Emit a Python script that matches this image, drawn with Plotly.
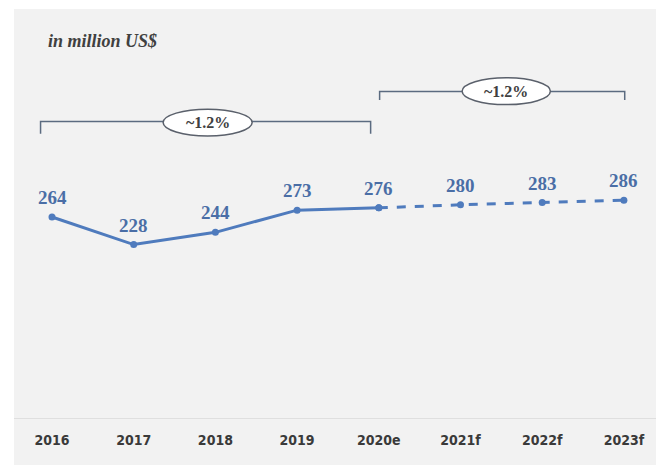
import plotly.graph_objects as go

# Market size, in million US$
years = ["2016", "2017", "2018", "2019", "2020e", "2021f", "2022f", "2023f"]
values = [264, 228, 244, 273, 276, 280, 283, 286]
cagr_labels = ["~1.2%", "~1.2%"]

LINE = "#4f7bbd"
LABEL = "#4a6ea6"
BRACKET = "#5b6b80"
BG = "#f2f2f2"
TEXT = "#404040"

idx = list(range(len(years)))
split = 4  # first estimated/forecast year

fig = go.Figure()

# actuals: solid line
fig.add_trace(go.Scatter(
    x=idx[:split + 1], y=values[:split + 1], mode="lines+markers",
    line=dict(color=LINE, width=3), marker=dict(size=7, color=LINE),
    hoverinfo="skip", showlegend=False,
))
# estimate and forecasts: dashed line
fig.add_trace(go.Scatter(
    x=idx[split:], y=values[split:], mode="lines+markers",
    line=dict(color=LINE, width=3, dash="dash"), marker=dict(size=7, color=LINE),
    hoverinfo="skip", showlegend=False,
))

annotations = []
for i, v in zip(idx, values):
    annotations.append(dict(
        x=i, y=v, xref="x", yref="y", text=f"<b>{v}</b>", showarrow=False,
        yanchor="bottom", yshift=7,
        font=dict(family="Liberation Serif", size=19, color=LABEL),
    ))

annotations.append(dict(
    x=46 / 656, y=(419 - 41) / 419, xref="paper", yref="paper",
    text="<b><i>in million US$</i></b>", showarrow=False,
    xanchor="left", yanchor="middle",
    font=dict(family="Liberation Serif", size=18, color=TEXT),
))

shapes = [
    # white margin strips around the grey panel
    dict(type="rect", xref="paper", yref="paper", x0=0, x1=14 / 656,
         y0=-46 / 419, y1=465 / 419, fillcolor="white", line=dict(width=0), layer="below"),
    dict(type="rect", xref="paper", yref="paper", x0=0, x1=1,
         y0=(419 - 9) / 419, y1=465 / 419, fillcolor="white", line=dict(width=0), layer="below"),
    # baseline
    dict(type="line", xref="paper", yref="y", x0=14 / 656, x1=1, y0=0, y1=0,
         line=dict(color="#d9d9d9", width=1.5)),
]

# growth brackets: (start, end, height in data units, tick drop, label box)
brackets = [
    (-0.14, 3.9, 389, 16, (1.36, 2.45, 405, 370)),
    (4.01, 7.01, 428, 11, (5.02, 6.1, 446, 411)),
]
for (xa, xb, yh, drop, (ex0, ex1, ey1, ey0)), lab in zip(brackets, cagr_labels):
    shapes.append(dict(
        type="path", xref="x", yref="y",
        path=f"M {xa},{yh - drop} L {xa},{yh} L {xb},{yh} L {xb},{yh - drop}",
        line=dict(color=BRACKET, width=1.5),
    ))
    shapes.append(dict(
        type="circle", xref="x", yref="y", x0=ex0, x1=ex1, y0=ey0, y1=ey1,
        fillcolor="white", line=dict(color="#5a606b", width=1.5),
    ))
    annotations.append(dict(
        x=(ex0 + ex1) / 2, y=(ey0 + ey1) / 2, xref="x", yref="y",
        text=f"<b>{lab}</b>", showarrow=False,
        font=dict(family="Liberation Serif", size=16, color=TEXT),
    ))

fig.update_layout(
    width=656, height=465,
    margin=dict(l=0, r=0, t=0, b=46),
    paper_bgcolor=BG, plot_bgcolor=BG,
    xaxis=dict(
        range=[-52 / 81.7, (656 - 52) / 81.7],
        tickmode="array", tickvals=idx, ticktext=[f"<b>{y}</b>" for y in years],
        showgrid=False, zeroline=False, showline=False, ticks="",
        tickfont=dict(family="DejaVu Sans Condensed", size=14, color="#3a3a3a"),
        ticklabelstandoff=11,
        fixedrange=True,
    ),
    yaxis=dict(
        range=[0, 419 / 0.765], visible=False, fixedrange=True,
    ),
    shapes=shapes,
    annotations=annotations,
)

fig.write_html("out.html")
